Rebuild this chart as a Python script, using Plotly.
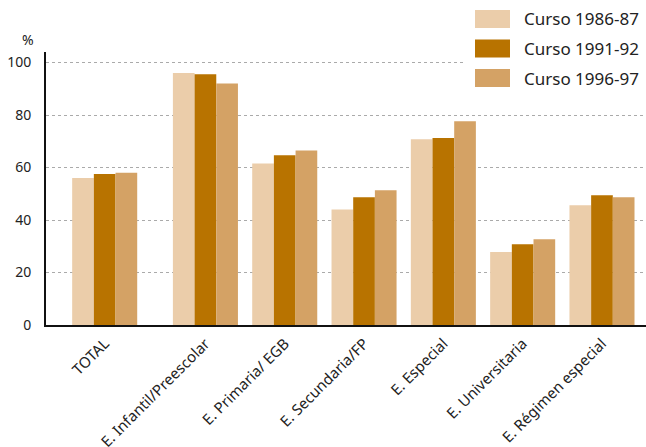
import plotly.graph_objects as go

categories = ["TOTAL", "E. Infantil/Preescolar", "E. Primaria/ EGB", "E. Secundaria/FP",
              "E. Especial", "E. Universitaria", "E. Régimen especial"]
series_names = ["Curso 1986-87", "Curso 1991-92", "Curso 1996-97"]
v_1986 = [56, 96, 61.5, 44, 70.8, 27.8, 45.6]
v_1991 = [57.5, 95.5, 64.7, 48.7, 71.2, 30.8, 49.4]
v_1996 = [58, 92, 66.5, 51.3, 77.6, 32.7, 48.7]
y_ticks = [0, 20, 40, 60, 80, 100]

colors = ["#EBCDAA", "#B87300", "#D4A265"]
FONT = "Noto Sans"

# TOTAL is set slightly apart from the other groups
total_gap = 0.27
x_pos = [i - (total_gap if i == 0 else 0) for i in range(len(categories))]

fig = go.Figure()
for name, vals, c in zip(series_names, [v_1986, v_1991, v_1996], colors):
    fig.add_trace(go.Bar(x=x_pos, y=vals, name=name, marker=dict(color=c, line=dict(width=0)),
                         showlegend=False))

fig.update_layout(
    width=646, height=447,
    margin=dict(l=46, r=0, t=52, b=122),
    paper_bgcolor="white", plot_bgcolor="white",
    barmode="group", bargap=0.18, bargroupgap=0,
    font=dict(family=FONT, color="#222222", size=13),
    xaxis=dict(range=[-1.01, 6.555], tickvals=x_pos, ticktext=categories, tickangle=-45,
               showgrid=False, zeroline=False, showline=True, linecolor="#111111", linewidth=2,
               ticks="", automargin=False, ticklabelstandoff=2,
               tickfont=dict(size=15, family=FONT, color="#222222")),
    yaxis=dict(range=[0, 104], tickvals=y_ticks, showgrid=True, gridcolor="#AAAAAA",
               griddash="dot", gridwidth=1, zeroline=False, showline=True,
               linecolor="#111111", linewidth=2, ticks="", ticklabelstandoff=10,
               automargin=False,
               tickfont=dict(size=14, family=FONT, color="#222222")),
)

# "%" unit label
fig.add_annotation(text="%", xref="paper", yref="paper", x=(28 - 46) / 600, y=1 + (52 - 40) / 273,
                   xanchor="center", yanchor="middle", showarrow=False,
                   font=dict(size=14, family=FONT, color="#222222"))

# Legend (custom, large swatches) on white background
fig.add_shape(type="rect", xref="paper", yref="paper", x0=(466 - 46) / 600, x1=1.0,
              y0=1 - (95 - 52) / 273, y1=1 + 52 / 273, fillcolor="white",
              line=dict(width=0), layer="above")
row_y = [19, 48.5, 78]
for name, c, yc in zip(series_names, colors, row_y):
    fig.add_shape(type="rect", xref="paper", yref="paper",
                  x0=(475 - 46) / 600, x1=(510 - 46) / 600,
                  y0=1 - (yc + 9 - 52) / 273, y1=1 - (yc - 9 - 52) / 273,
                  fillcolor=c, line=dict(width=0), layer="above")
    fig.add_annotation(text=name, xref="paper", yref="paper", x=(522 - 46) / 600,
                       y=1 - (yc - 52) / 273, xanchor="left", yanchor="middle",
                       showarrow=False, font=dict(size=17, family=FONT, color="#222222"))

fig.write_html("out.html", config={"displayModeBar": False},
               post_script="document.body.style.margin='0';document.body.style.overflow='hidden';")
